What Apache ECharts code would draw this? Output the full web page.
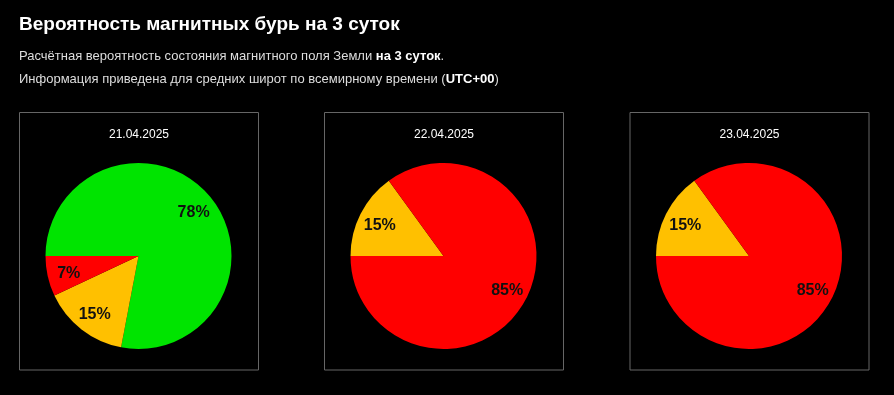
<!DOCTYPE html>
<html><head><meta charset="utf-8">
<script src="https://cdn.jsdelivr.net/npm/echarts@6/dist/echarts.min.js"></script>
<style>html,body{margin:0;padding:0;background:#000;}#c{width:894px;height:395px;}</style>
</head><body><div id="c"></div>
<script>
const titleText = 'Вероятность магнитных бурь на 3 суток';
const dates = ['21.04.2025', '22.04.2025', '23.04.2025'];
const categories = [
  ['Спокойно', 'Возмущение', 'Буря'],
  ['Возмущение', 'Буря'],
  ['Возмущение', 'Буря']
];
const values = [
  [78, 15, 7],
  [15, 85],
  [15, 85]
];
const colorsByCat = { 'Спокойно': '#00e400', 'Возмущение': '#ffc000', 'Буря': '#ff0000' };

const chart = echarts.init(document.getElementById('c'), null, {renderer: 'canvas'});
const boxX = [19.5, 324.5, 630];
const boxW = 239, boxY = 112.5, boxH = 257.5;
const cy = 256, R = 93;
const FF = '"Liberation Sans", Arial, sans-serif';

const graphics = [
  {type: 'text', left: 19, top: 15, style: {text: titleText, fill: '#fff', font: 'bold 19px ' + FF}},
  {type: 'text', left: 19, top: 50, style: {
    text: '{n|Расчётная вероятность состояния магнитного поля Земли }{b|на 3 суток}{n|.}',
    rich: {n: {fill: '#ddd', fontSize: 13, fontFamily: FF},
           b: {fill: '#fff', fontSize: 13, fontWeight: 'bold', fontFamily: FF}}}},
  {type: 'text', left: 19, top: 73, style: {
    text: '{n|Информация приведена для средних широт по всемирному времени (}{b|UTC+00}{n|)}',
    rich: {n: {fill: '#ddd', fontSize: 13, fontFamily: FF},
           b: {fill: '#fff', fontSize: 13, fontWeight: 'bold', fontFamily: FF}}}}
];
const series = [];
dates.forEach((d, i) => {
  graphics.push({type: 'rect', shape: {x: boxX[i], y: boxY, width: boxW, height: boxH}, style: {fill: 'none', stroke: '#666', lineWidth: 1}});
  graphics.push({type: 'text', x: boxX[i] + boxW / 2, y: 135, style: {text: d, fill: '#fff', font: '12px ' + FF, textAlign: 'center', textVerticalAlign: 'middle'}});
  const data = values[i].map((v, j) => ({name: categories[i][j], value: v, itemStyle: {color: colorsByCat[categories[i][j]]}}));
  const cx = boxX[i] + boxW / 2 - 0.5;
  series.push({
    type: 'pie', center: [cx, cy], radius: [0, R], startAngle: 180, clockwise: true,
    animation: false, silent: true, label: {show: false}, labelLine: {show: false},
    data: data
  });
  series.push({
    type: 'pie', center: [cx, cy], radius: [44, R], startAngle: 180, clockwise: true,
    animation: false, silent: true, labelLine: {show: false},
    label: {show: true, position: 'inside', formatter: '{c}%', color: '#111', offset: [0, 2],
            fontSize: 16, fontWeight: 'bold', fontFamily: FF},
    data: values[i].map((v, j) => ({name: categories[i][j], value: v, itemStyle: {color: 'rgba(0,0,0,0)'}}))
  });
});
chart.setOption({backgroundColor: '#000', animation: false, graphic: graphics, series: series});
</script></body></html>
